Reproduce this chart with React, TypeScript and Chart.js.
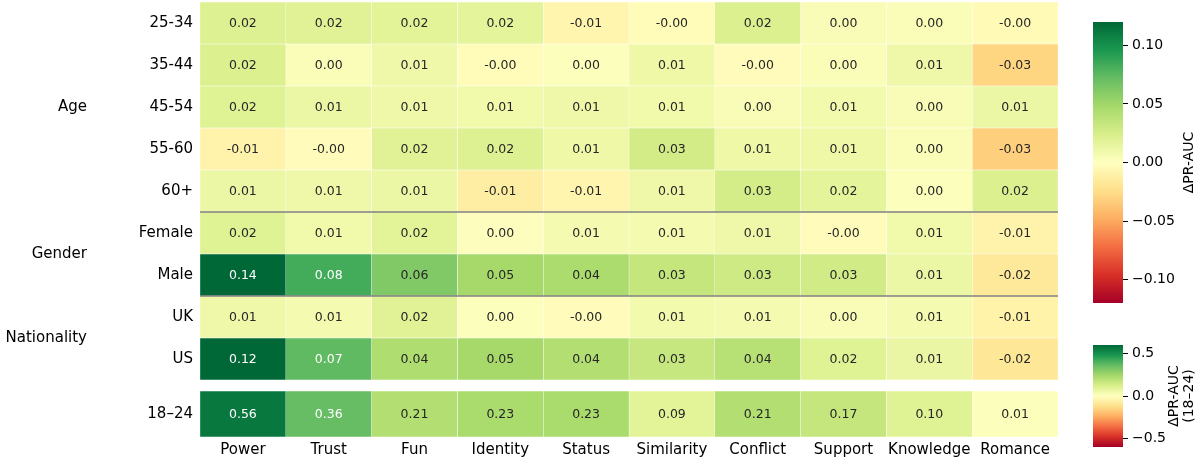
import React, { useEffect, useRef } from 'react';
import { Chart, registerables } from 'chart.js';

Chart.register(...registerables);
Chart.defaults.font.family = "'DejaVu Sans', sans-serif";

// ---------- data ----------
const columns = ['Power', 'Trust', 'Fun', 'Identity', 'Status', 'Similarity', 'Conflict', 'Support', 'Knowledge', 'Romance'];
const rowLabels = ['25-34', '35-44', '45-54', '55-60', '60+', 'Female', 'Male', 'UK', 'US'];

const row2534 = [0.021, 0.019, 0.018, 0.017, -0.008, -0.003, 0.022, 0.004, 0.003, -0.004];
const row3544 = [0.022, 0.003, 0.010, -0.003, 0.002, 0.011, -0.002, 0.003, 0.010, -0.029];
const row4554 = [0.020, 0.012, 0.010, 0.009, 0.010, 0.009, 0.004, 0.008, 0.004, 0.012];
const row5560 = [-0.009, -0.002, 0.019, 0.021, 0.011, 0.027, 0.011, 0.011, 0.003, -0.032];
const row60p = [0.012, 0.010, 0.012, -0.013, -0.008, 0.010, 0.026, 0.017, 0.002, 0.022];
const rowFemale = [0.020, 0.009, 0.018, 0.001, 0.007, 0.007, 0.010, -0.002, 0.009, -0.009];
const rowMale = [0.138, 0.083, 0.062, 0.048, 0.045, 0.034, 0.029, 0.028, 0.012, -0.017];
const rowUK = [0.010, 0.007, 0.019, 0.002, -0.002, 0.008, 0.007, 0.004, 0.007, -0.010];
const rowUS = [0.122, 0.074, 0.044, 0.048, 0.042, 0.033, 0.040, 0.020, 0.013, -0.018];
const mainRows = [row2534, row3544, row4554, row5560, row60p, rowFemale, rowMale, rowUK, rowUS];

const youngLabels = ['18–24'];
const row1824 = [0.56, 0.36, 0.21, 0.23, 0.23, 0.09, 0.21, 0.17, 0.10, 0.01];
const youngRows = [row1824];

const groupNames = ['Age', 'Gender', 'Nationality'];
const groupFirstRow = [0, 5, 7];
const groupLastRow = [4, 6, 8];
const separatorAfterRow = [4, 6];

const mainRange = [-0.12, 0.12];
const youngRange = [-0.6, 0.6];
const mainTicks = [-0.1, -0.05, 0, 0.05, 0.1];
const mainTickLabels = ['−0.10', '−0.05', '0.00', '0.05', '0.10'];
const youngTicks = [-0.5, 0, 0.5];
const youngTickLabels = ['−0.5', '0.0', '0.5'];
const mainTitle = ['ΔPR-AUC'];
const youngTitle = ['ΔPR-AUC', '(18–24)'];

const rdylgn = ['#a50026', '#d73027', '#f46d43', '#fdae61', '#fee08b', '#ffffbf', '#d9ef8b', '#a6d96a', '#66bd63', '#1a9850', '#006837'];

// ---------- helpers ----------
const hexToRgb = (h: string) => [parseInt(h.slice(1, 3), 16), parseInt(h.slice(3, 5), 16), parseInt(h.slice(5, 7), 16)];
const stops = rdylgn.map(hexToRgb);

function cmap(t: number) {
  const tt = Math.max(0, Math.min(1, t)) * (stops.length - 1);
  const i = Math.min(stops.length - 2, Math.floor(tt));
  const f = tt - i;
  return stops[i].map((c, k) => c + (stops[i + 1][k] - c) * f);
}
const rgbStr = (c: number[]) => `rgb(${Math.round(c[0])},${Math.round(c[1])},${Math.round(c[2])})`;
function luminance(c: number[]) {
  const lin = c.map((v) => {
    const s = v / 255;
    return s <= 0.03928 ? s / 12.92 : Math.pow((s + 0.055) / 1.055, 2.4);
  });
  return 0.2126 * lin[0] + 0.7152 * lin[1] + 0.0722 * lin[2];
}
const colorFor = (v: number, range: number[]) => cmap((v - range[0]) / (range[1] - range[0]));

const zeroPad = (s: any) => {
  s.paddingTop = 0;
  s.paddingBottom = 0;
  s.paddingLeft = 0;
  s.paddingRight = 0;
};

const cellLabelPlugin = {
  id: 'cellLabels',
  afterDatasetsDraw(chart: any) {
    const ctx = chart.ctx;
    ctx.save();
    ctx.font = "12.5px 'DejaVu Sans'";
    ctx.textAlign = 'center';
    ctx.textBaseline = 'middle';
    chart.data.datasets.forEach((ds: any, di: number) => {
      const meta = chart.getDatasetMeta(di);
      meta.data.forEach((bar: any, i: number) => {
        const v = ds.values[i];
        const c = colorFor(v, ds.range);
        ctx.fillStyle = luminance(c) > 0.408 ? '#262626' : '#ffffff';
        const cx = (bar.x + bar.base) / 2;
        ctx.fillText(v.toFixed(2), cx, bar.y + 0.5);
      });
    });
    ctx.restore();
  },
};

const groupPlugin = {
  id: 'groups',
  afterDraw(chart: any) {
    const opts = chart.options.plugins.groups;
    if (!opts || !opts.enabled) return;
    const ctx = chart.ctx;
    const ys = chart.scales.y;
    const area = chart.chartArea;
    ctx.save();
    ctx.strokeStyle = '#808080';
    ctx.lineWidth = 1.6;
    separatorAfterRow.forEach((r) => {
      const y = (ys.getPixelForValue(r) + ys.getPixelForValue(r + 1)) / 2;
      ctx.beginPath();
      ctx.moveTo(area.left, y);
      ctx.lineTo(area.right, y);
      ctx.stroke();
    });
    ctx.fillStyle = '#000';
    ctx.font = "15px 'DejaVu Sans'";
    ctx.textAlign = 'right';
    ctx.textBaseline = 'middle';
    groupNames.forEach((g, i) => {
      const y = (ys.getPixelForValue(groupFirstRow[i]) + ys.getPixelForValue(groupLastRow[i])) / 2;
      ctx.fillText(g, 87, y);
    });
    ctx.restore();
  },
};

function heatmapConfig(names: string[], rows: number[][], range: number[], showX: boolean, pad: any, groups: boolean) {
  const datasets = columns.map((col, ci) => ({
    label: col,
    data: rows.map(() => 1),
    values: rows.map((r) => r[ci]),
    range,
    backgroundColor: rows.map((r) => rgbStr(colorFor(r[ci], range))),
    borderColor: 'rgba(255,255,255,0.85)',
    borderWidth: 0.5,
    borderSkipped: false,
    barPercentage: 1,
    categoryPercentage: 1,
  }));
  return {
    type: 'bar',
    data: { labels: names, datasets },
    options: {
      indexAxis: 'y',
      animation: false,
      responsive: false,
      maintainAspectRatio: false,
      layout: { padding: pad },
      plugins: { legend: { display: false }, tooltip: { enabled: false }, groups: { enabled: groups } },
      scales: {
        x: {
          type: 'linear',
          stacked: true,
          min: 0,
          max: columns.length,
          display: showX,
          position: 'bottom',
          afterBuildTicks: (s: any) => {
            s.ticks = columns.map((_, i) => ({ value: i + 0.5 }));
          },
          afterFit: (s: any) => {
            s.height = showX ? 24 : 0;
            zeroPad(s);
          },
          ticks: {
            autoSkip: false,
            maxRotation: 0,
            padding: 4,
            color: '#000',
            font: { size: 15 },
            callback: (v: number) => columns[Math.floor(v)],
          },
          grid: { display: false, drawTicks: false },
          border: { display: false },
        },
        y: {
          type: 'category',
          stacked: true,
          afterFit: (s: any) => {
            s.width = 200;
            zeroPad(s);
          },
          ticks: { color: '#000', font: { size: 15 }, padding: 7 },
          grid: { display: false, drawTicks: false },
          border: { display: false },
        },
      },
    },
    plugins: [cellLabelPlugin, groupPlugin],
  };
}

function colorbarConfig(range: number[], ticks: number[], tickLabels: string[], title: string[], pad: any) {
  const titlePlugin = {
    id: 'cbTitle',
    afterDraw(chart: any) {
      const ctx = chart.ctx;
      const area = chart.chartArea;
      ctx.save();
      ctx.fillStyle = '#000';
      ctx.font = "14px 'DejaVu Sans'";
      ctx.textAlign = 'center';
      ctx.textBaseline = 'middle';
      const cy = (area.top + area.bottom) / 2;
      const lh = 15;
      const x0 = title.length === 1 ? 96 : 81;
      title.forEach((t, i) => {
        ctx.save();
        ctx.translate(x0 + i * lh, cy);
        ctx.rotate(-Math.PI / 2);
        ctx.fillText(t, 0, 0);
        ctx.restore();
      });
      ctx.restore();
    },
  };
  return {
    type: 'bar',
    data: {
      labels: [''],
      datasets: [
        {
          data: [[range[0], range[1]]],
          backgroundColor: (c: any) => {
            const area = c.chart.chartArea;
            if (!area) return 'transparent';
            const g = c.chart.ctx.createLinearGradient(0, area.bottom, 0, area.top);
            rdylgn.forEach((col, i) => g.addColorStop(i / (rdylgn.length - 1), col));
            return g;
          },
          borderWidth: 0,
          barPercentage: 1,
          categoryPercentage: 1,
        },
      ],
    },
    options: {
      animation: false,
      responsive: false,
      maintainAspectRatio: false,
      layout: { padding: pad },
      plugins: { legend: { display: false }, tooltip: { enabled: false } },
      scales: {
        x: { display: false },
        y: {
          position: 'right',
          min: range[0],
          max: range[1],
          afterFit: (s: any) => {
            s.width = 74;
            zeroPad(s);
          },
          afterBuildTicks: (s: any) => {
            s.ticks = ticks.map((v) => ({ value: v }));
          },
          ticks: {
            color: '#000',
            font: { size: 14 },
            padding: 4,
            callback: (v: number) => {
              const i = ticks.findIndex((t) => Math.abs(t - v) < 1e-9);
              return i >= 0 ? tickLabels[i] : '';
            },
          },
          grid: { drawOnChartArea: false, drawTicks: true, tickLength: 5, color: '#000', lineWidth: 1 },
          border: { display: false },
        },
      },
    },
    plugins: [titlePlugin],
  };
}

function ChartCanvas({ config, left, top, width, height }: any) {
  const ref = useRef<HTMLCanvasElement>(null);
  useEffect(() => {
    const chart = new Chart(ref.current as HTMLCanvasElement, config() as any);
    return () => chart.destroy();
  }, []);
  return (
    <canvas
      ref={ref}
      width={width}
      height={height}
      style={{ position: 'absolute', left, top, width, height }}
    />
  );
}

export default function App() {
  return (
    <div style={{ position: 'absolute', left: 0, top: 0, width: 1197, height: 461, background: '#fff' }}>
      <ChartCanvas
        left={0}
        top={0}
        width={1060}
        height={382}
        config={() => heatmapConfig(rowLabels, mainRows, mainRange, false, { top: 2, bottom: 2, right: 2, left: 0 }, true)}
      />
      <ChartCanvas
        left={0}
        top={380}
        width={1060}
        height={81}
        config={() => heatmapConfig(youngLabels, youngRows, youngRange, true, { top: 11, bottom: 0, right: 2, left: 0 }, false)}
      />
      <ChartCanvas
        left={1093}
        top={0}
        width={104}
        height={325}
        config={() => colorbarConfig(mainRange, mainTicks, mainTickLabels, mainTitle, { top: 22, bottom: 22, left: 0, right: 0 })}
      />
      <ChartCanvas
        left={1093}
        top={330}
        width={104}
        height={131}
        config={() => colorbarConfig(youngRange, youngTicks, youngTickLabels, youngTitle, { top: 15, bottom: 14, left: 0, right: 0 })}
      />
    </div>
  );
}
